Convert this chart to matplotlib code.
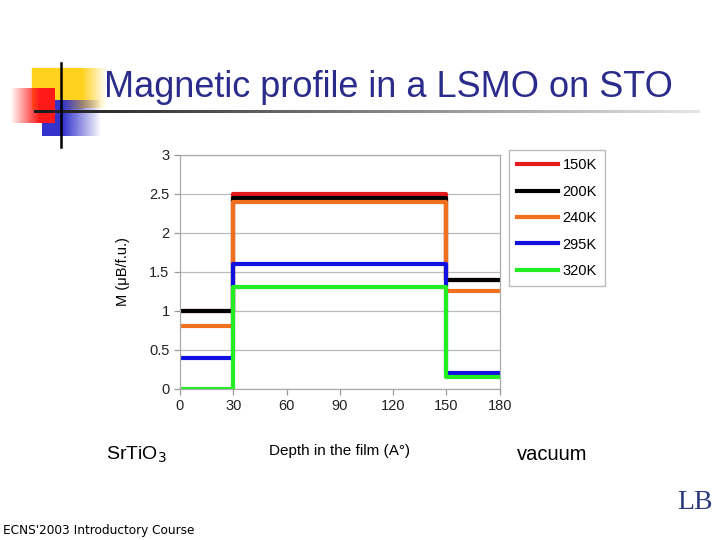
import numpy as np
import matplotlib
matplotlib.use('Agg')
import matplotlib.pyplot as plt
from matplotlib.patches import Rectangle

plt.rcParams['font.family'] = ['Liberation Sans', 'DejaVu Sans']

# depth boundaries (Angstrom) and magnetisation per layer
edges = [0, 30, 150, 180]
labels = ["150K", "200K", "240K", "295K", "320K"]
m_150 = [1.0, 2.5, 1.4]
m_200 = [1.0, 2.45, 1.4]
m_240 = [0.8, 2.4, 1.25]
m_295 = [0.4, 1.6, 0.2]
m_320 = [0.0, 1.3, 0.15]
colors = ["#e41a1c", "#000000", "#f07020", "#1010e0", "#22ee22"]

fig = plt.figure(figsize=(7.2, 5.4), dpi=100)

# decorative squares in the top left corner
deco = fig.add_axes([0, 0, 1, 1], zorder=0)
deco.set_xlim(0, 720)
deco.set_ylim(540, 0)
deco.axis('off')


def grad_rect(x0, y0, w, h, rgb, fade_from=0.4, reverse=False):
    g = np.ones((10, 50, 4))
    g[..., :3] = rgb
    a = np.ones(50)
    n0 = int(50 * fade_from)
    a[n0:] = np.linspace(1, 0, 50 - n0)
    if reverse:
        a = a[::-1]
    g[..., 3] = a
    deco.imshow(g, extent=[x0, x0 + w, y0 + h, y0], aspect='auto', zorder=1)


deco.add_patch(Rectangle((32, 68), 50, 40, color="#ffd21e", zorder=1))
grad_rect(82, 68, 25, 40, (1.0, 0.82, 0.12), fade_from=0.0)
grad_rect(42, 100, 60, 36, (0.2, 0.2, 0.8), fade_from=0.35)
grad_rect(10, 88, 45, 35, (1.0, 0.1, 0.1), fade_from=0.35, reverse=True)
deco.imshow(np.linspace(0.1, 0.9, 256)[None, :], cmap='gray', vmin=0, vmax=1,
            extent=[34, 700, 113, 110], aspect='auto', zorder=2)
deco.plot([61, 61], [63, 147], color="black", lw=1.8, zorder=3)

fig.text(0.145, 0.838, "Magnetic profile in a LSMO on STO", fontsize=26,
         color="#2b2b8c", va='center', ha='left')

ax = fig.add_axes([0.25, 0.28, 0.444, 0.433])
series = [m_150, m_200, m_240, m_295, m_320]
for lab, vals, c in zip(labels, series, colors):
    y = vals + [vals[-1]]
    ax.step(edges, y, where='post', color=c, lw=3, label=lab)

ax.set_xlim(0, 180)
ax.set_ylim(0, 3)
ax.set_xticks(np.arange(0, 181, 30))
ax.set_yticks(np.arange(0, 3.01, 0.5))
ax.set_yticklabels(["0", "0.5", "1", "1.5", "2", "2.5", "3"])
ax.grid(axis='y', color="#bbbbbb", lw=0.9)
ax.set_axisbelow(True)
for s in ax.spines.values():
    s.set_color("#aaaaaa")
    s.set_linewidth(0.9)
ax.tick_params(colors="#999999", labelcolor="#222222", labelsize=10.5,
               length=4, width=0.9)
ax.set_ylabel("M (μB/f.u.)", fontsize=10.5, labelpad=14)
ax.set_xlabel("Depth in the film (A°)", fontsize=11, labelpad=22)

leg = ax.legend(loc='upper left', bbox_to_anchor=(1.03, 1.02), fontsize=10.5,
                frameon=True, fancybox=False, edgecolor="#aaaaaa",
                handlelength=2.8, labelspacing=0.85, borderpad=0.55,
                handletextpad=0.3, borderaxespad=0)

fig.text(0.147, 0.158, "SrTiO$_3$", fontsize=14, ha='left', va='center')
fig.text(0.718, 0.158, "vacuum", fontsize=14.5, ha='left', va='center')
fig.text(0.004, 0.018, "ECNS'2003 Introductory Course", fontsize=8.7,
         family=['DejaVu Sans'], ha='left', va='center')
fig.text(0.965, 0.07, "LB", fontsize=20, color="#2b3a7a", ha='center',
         va='center', family=['Liberation Serif'])

fig.savefig("out.png", dpi=100)
